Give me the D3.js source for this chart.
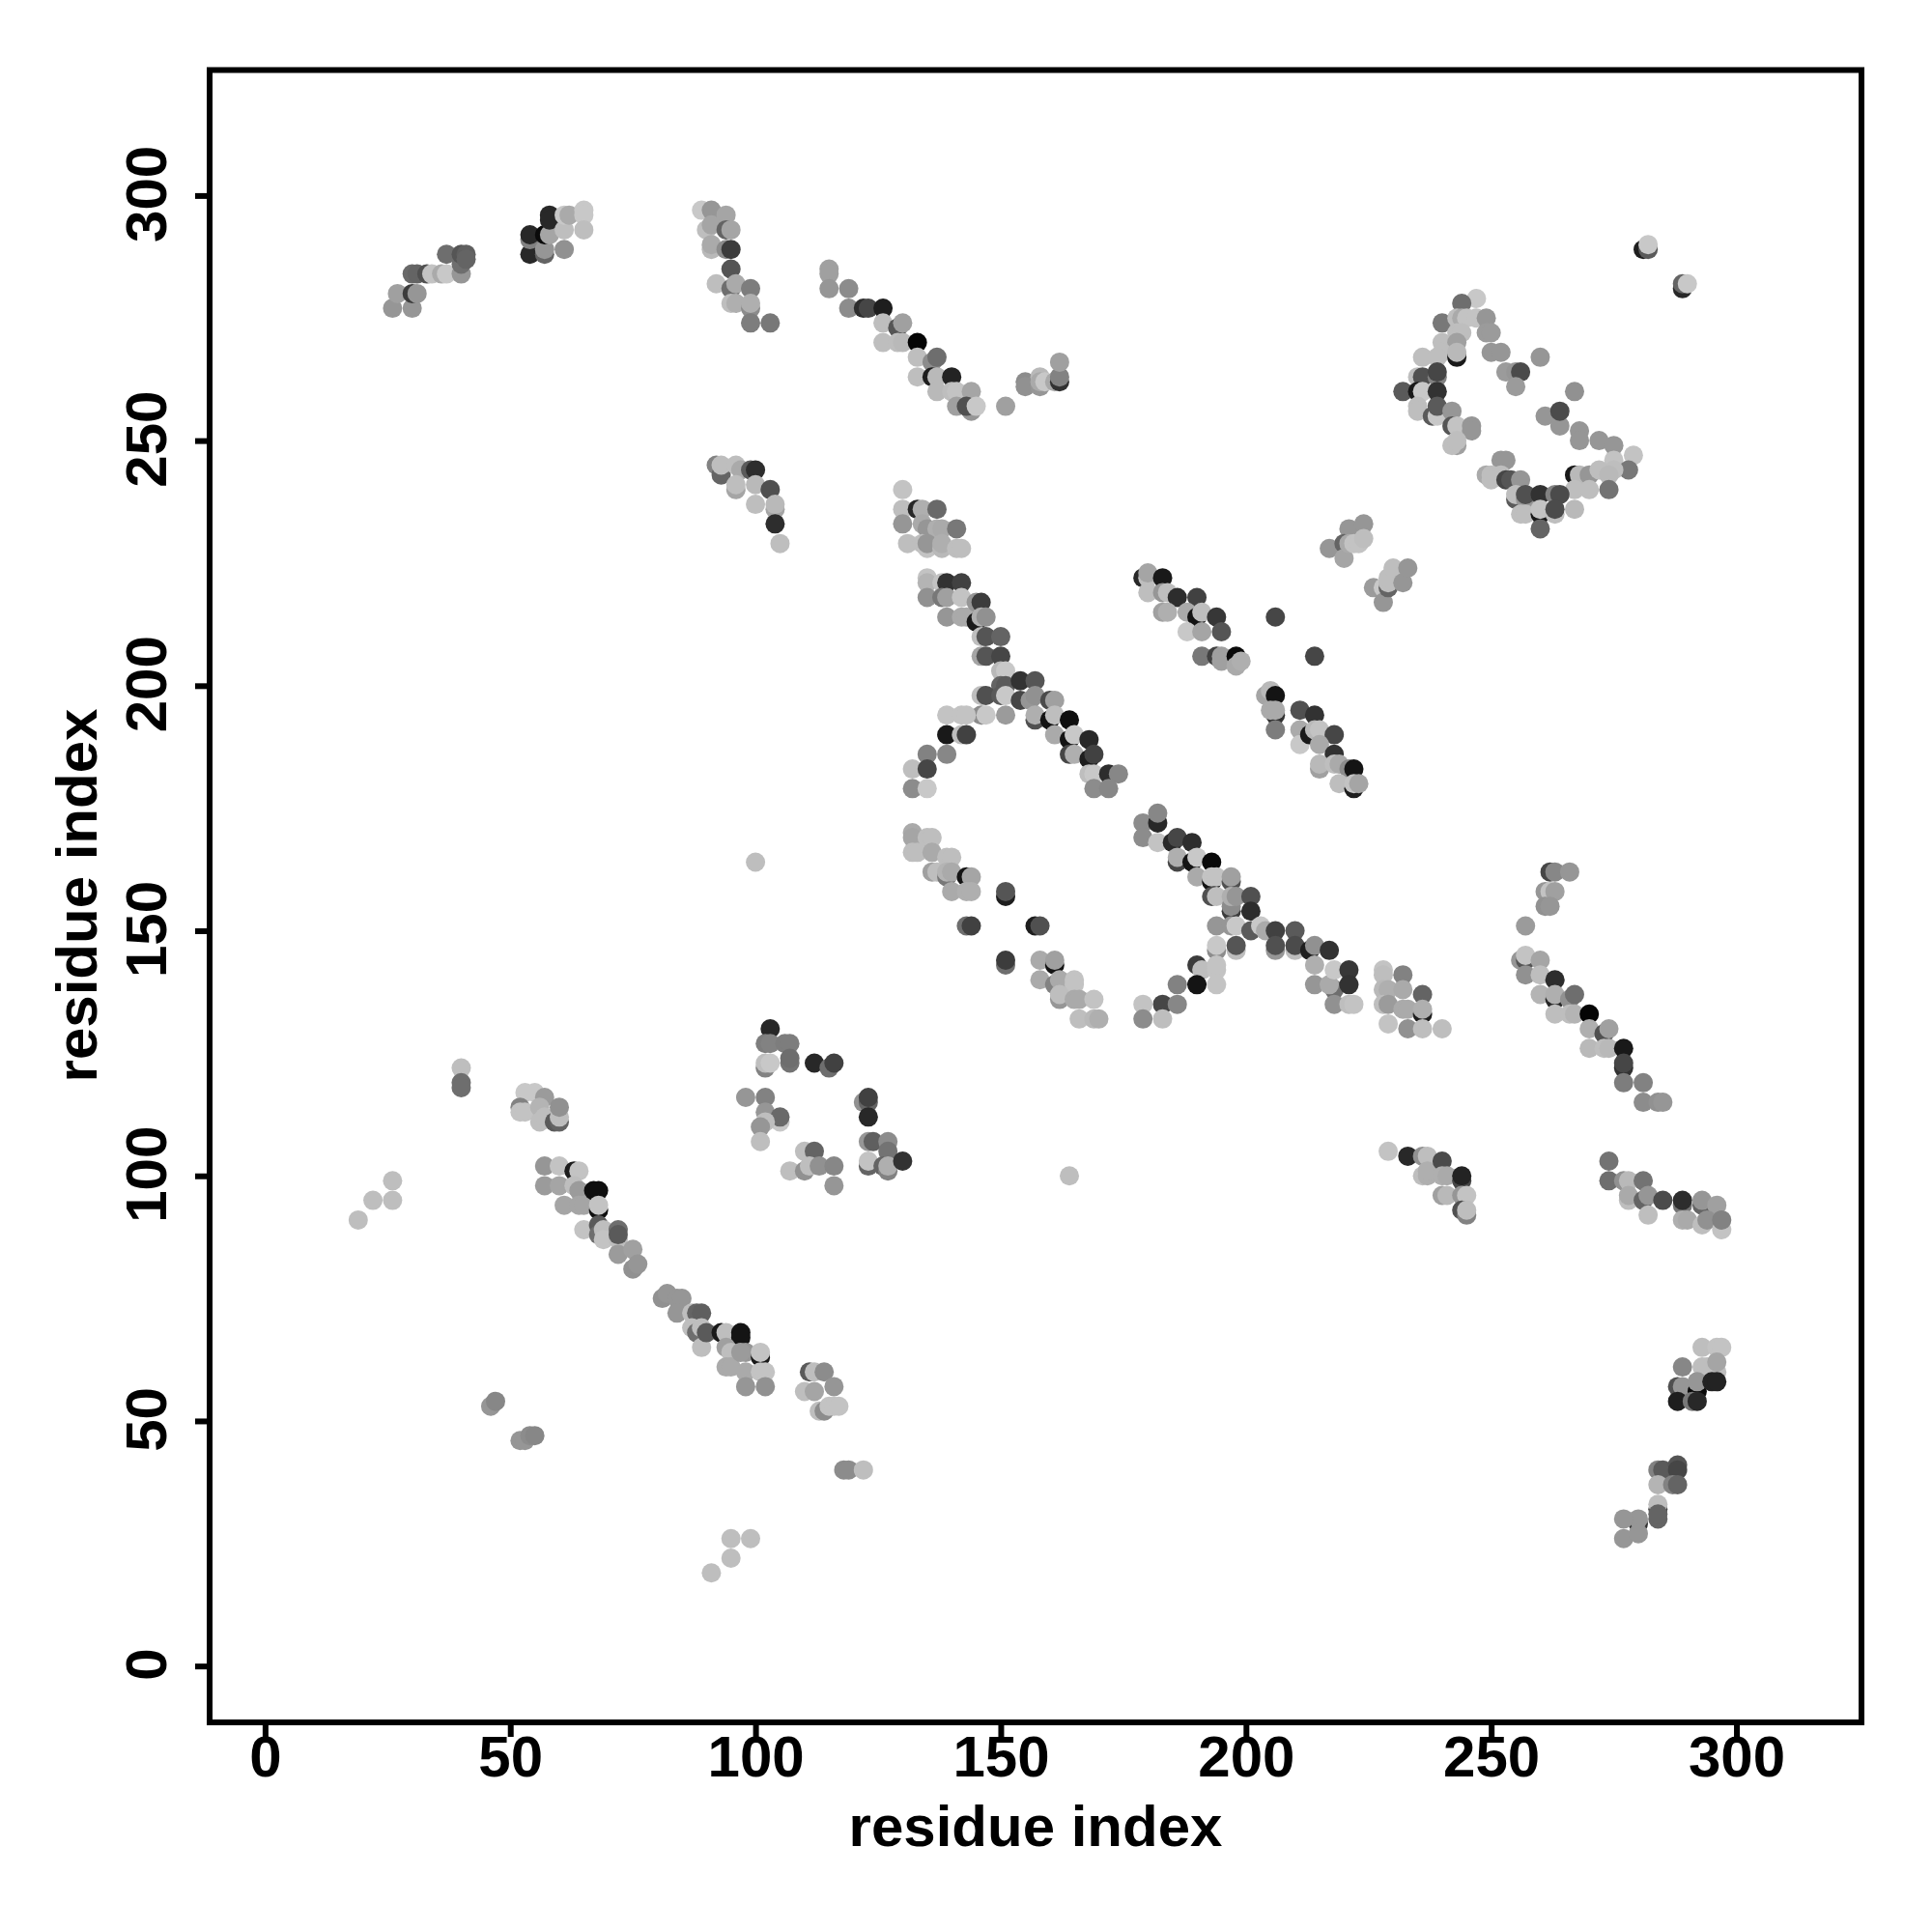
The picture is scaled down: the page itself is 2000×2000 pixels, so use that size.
<!DOCTYPE html>
<html><head><meta charset="utf-8"><script src="https://cdn.jsdelivr.net/npm/d3@7"></script>
<style>html,body{margin:0;background:#fff}svg{display:block}text{font-family:"Liberation Sans",Arial,sans-serif;font-weight:700;fill:#000}</style></head><body>
<script>
// each contact: [residue x, residue y, grey level]
const topLeft=[[26,277,150],[30,277,150],[27,280,160],[30,280,60],[31,280,150],[30,284,105],[31,284,100],[33,284,80],[34,284,195],[36,284,170],[37,284,200],[40,284,150],[37,288,110],[40,286,110],[40,288,85],[41,288,95],[41,287,100],
[54,288,40],[54,291,130],[54,292,40],[57,288,100],[57,289,150],[57,292,10],[58,292,165],[58,296,40],[58,295,40],[61,289,145],[61,293,190],[61,296,200],[62,296,170],[65,297,200],[65,296,200],[65,293,190],
[89,297,200],[91,297,150],[94,296,165],[90,293,190],[91,294,165],[94,293,100],[95,293,165],[91,289,185],[91,290,170],[94,289,140],[95,289,60],[95,285,85],[92,282,190],[95,281,110],[96,282,170],[99,281,125],[95,278,190],[96,278,175],[99,277,140],[99,278,175],[99,274,125],[103,274,120],
[92,245,130],[93,243,100],[93,245,190],[96,245,190],[97,244,170],[99,244,90],[100,244,45],[96,240,165],[96,241,190],[100,241,185],[103,240,80],[100,237,190],[104,236,165],[104,237,185],[104,233,45],[105,229,190]];
const topMiddle=[[115,285,160],[115,284,160],[115,281,150],[119,281,140],[119,277,140],[122,277,45],[123,277,70],[126,277,30],[126,274,190],[126,270,190],[129,273,85],[130,274,160],[129,270,190],[130,270,185],[133,270,5],[133,267,190],[136,266,140],[137,267,110],[133,263,190],[136,263,30],[137,263,185],[140,263,35],[137,260,185],[140,260,190],[141,260,195],[141,257,160],[144,260,165],[144,256,150],[143,257,80],[145,257,200],[151,257,160],[155,262,140],[155,261,145],[158,263,185],[158,261,150],[158,262,170],[159,262,200],[161,262,170],[162,262,50],[162,263,130],[162,266,160]];
const topRight=[[281,289,30],[282,289,90],[282,290,200],[289,281,40],[289,282,100],[290,282,200],
[247,279,200],[244,278,110],[240,274,120],[243,275,190],[244,275,170],[245,275,195],[247,275,195],[249,275,150],[243,272,190],[244,272,190],[249,272,155],[250,272,155],[240,270,190],[243,270,160],[240,268,190],[236,267,190],[239,267,190],[243,267,25],[243,268,185],[250,268,150],[252,268,150],[260,267,150],[253,264,155],[255,264,150],[256,264,75],[255,261,155],[235,263,190],[236,263,80],[239,263,130],[239,264,70],[232,260,90],[235,260,25],[236,260,200],[239,260,50],[267,260,145],[235,257,190],[235,256,190],[238,255,90],[239,255,200],[239,257,90],[242,256,150],[261,255,150],[264,253,150],[264,256,75],[242,253,85],[243,253,195],[246,253,150],[246,252,150],[243,249,160],[242,249,190],[243,250,190],[268,252,150],[268,250,150],[272,250,150],[275,249,150],[279,247,195],[275,246,195],[252,246,150],[253,246,150],[278,244,120],[275,244,190],[249,243,170],[250,243,190],[252,243,190],[250,242,190],[253,242,70],[254,242,85],[256,242,150],[267,243,25],[268,243,185],[270,243,150],[272,244,190],[274,243,185],[267,240,190],[270,240,190],[274,240,115],[255,238,90],[255,239,190],[257,238,150],[257,239,80],[260,239,50],[263,239,130],[264,239,75],[267,236,185],[256,235,190],[257,235,190],[260,235,25],[260,236,195],[263,235,190],[263,236,75],[260,232,100]];
const centreDiagonal=[[130,240,195],[130,236,190],[133,236,40],[134,236,175],[137,236,105],[130,233,150],[134,233,170],[135,232,150],[137,232,175],[138,232,170],[141,232,120],[131,229,190],[134,229,190],[135,228,195],[135,229,150],[138,228,185],[138,229,175],[141,228,190],[142,228,190],
[135,222,195],[135,221,180],[138,221,195],[139,221,50],[142,221,65],[135,218,145],[138,218,120],[139,218,160],[142,218,195],[139,214,150],[142,214,170],[143,214,170],[145,217,150],[146,217,60],[145,213,25],[146,214,175],[147,214,145],[146,210,190],[147,210,85],[150,210,100],[146,206,165],[147,206,85],[150,206,70],[150,203,185],[151,203,200],[150,200,100],[151,200,90],[154,201,50],[157,201,85],[146,198,190],[147,198,80],[150,198,90],[151,198,200],[154,197,70],[156,197,150],[157,198,145],[160,197,75],[161,197,160],[146,194,140],[147,194,200],[139,194,195],[142,194,195],[143,194,195],[151,194,155],[157,193,80],[157,194,175],[160,193,20],[161,194,190],[164,193,15],[161,190,170],[139,190,25],[142,190,190],[143,190,65],[164,189,20],[165,190,200],[168,189,40],[135,186,130],[139,186,135],[164,186,70],[165,186,175],[168,185,30],[169,186,65],[132,183,190],[135,183,70],[168,182,190],[169,182,200],[172,182,45],[174,182,135],[132,179,140],[135,179,200],[169,179,140],[172,179,135]];
const rightOfCentre=[[179,222,40],[180,222,190],[180,223,165],[180,219,190],[183,222,25],[183,219,150],[184,219,190],[186,218,45],[190,218,65],[183,215,160],[184,215,175],[188,215,170],[190,214,20],[191,215,190],[194,214,55],[188,211,200],[191,211,165],[195,211,85],[206,214,70],[214,206,70],[191,206,120],[194,206,65],[195,206,160],[195,205,160],[198,206,10],[198,204,170],[199,205,175],[204,198,165],[205,199,185],[206,198,20],[206,194,50],[205,195,170],[206,195,170],[206,191,125],[211,195,80],[214,194,50],[211,191,170],[211,188,200],[213,190,25],[214,191,185],[215,191,195],[218,190,70],[215,188,170],[218,186,50],[215,183,160],[215,184,185],[218,184,190],[219,184,170],[221,183,140],[222,183,20],[219,180,190],[222,179,30],[222,180,195],[223,180,165],
[221,232,150],[224,233,150],[217,228,150],[220,229,100],[220,226,165],[221,229,170],[222,229,195],[223,229,195],[224,230,190],[226,220,155],[228,220,200],[228,217,150],[229,220,100],[229,221,190],[229,222,190],[230,224,190],[232,221,150],[233,224,150]];
const lowerCentre=[[132,170,170],[132,169,165],[132,166,190],[133,166,190],[135,169,190],[136,169,190],[136,166,170],[136,162,160],[137,162,190],[139,165,190],[140,165,190],[139,161,120],[139,162,180],[140,162,170],[140,158,170],[143,161,20],[144,161,165],[143,158,175],[144,158,175],[151,157,30],[151,158,85],[143,151,110],[144,151,65],[157,151,30],[158,151,80],[151,143,110],[151,144,60],[158,144,170],[158,140,170],[161,143,20],[161,144,160],[161,139,130],[162,140,170],[165,140,195],[165,139,195],[162,136,150],[162,137,190],[165,136,170],[166,136,170],[169,136,195],[166,132,190],[169,132,185],[170,132,175],
[179,172,140],[179,169,140],[182,172,40],[182,174,135],[182,168,195],[185,168,40],[186,169,70],[186,164,70],[186,165,175],[189,168,45],[189,164,20],[190,165,200],[190,161,170],[193,164,10],[193,160,20],[193,161,195],[194,161,195],[197,160,80],[197,161,160],[193,157,80],[194,157,190],[197,154,60],[197,155,140],[197,157,175],[198,157,150],[201,157,80],[201,154,45],[194,151,150],[197,151,150],[198,151,200],[201,150,90],[203,151,200],[204,150,170],[206,150,65],[206,146,150],[206,147,80],[210,150,90],[210,146,190],[210,147,75],[194,146,140],[194,147,200],[198,146,190],[198,147,85],[190,143,60],[191,142,190],[190,139,20],[194,142,195],[194,143,195],[194,139,195],[186,139,130],[179,135,195],[183,135,70],[186,135,135],[179,132,140],[183,132,190],
[213,146,30],[214,147,145],[217,146,50],[214,143,175],[214,139,150],[218,138,110],[217,139,170],[218,142,200],[221,142,55],[221,139,50],[218,135,145],[221,135,190],[222,135,195],
[228,142,195],[228,141,190],[232,141,130],[228,138,185],[229,138,175],[232,138,170],[228,135,190],[229,135,155],[232,134,170],[233,134,170],[229,131,195],[233,130,145],[236,137,100],[236,133,30],[236,134,175],[236,130,190],[240,130,190]];
const rightEdge=[[262,162,70],[263,162,135],[266,162,150],[261,158,150],[262,158,195],[263,158,160],[261,155,145],[262,155,150],[257,151,155],[256,144,150],[257,144,85],[257,145,195],[260,144,165],[257,141,145],[260,141,190],[260,137,180],[263,140,45],[263,136,40],[263,137,175],[266,136,145],[267,137,110],[263,133,190],[266,133,190],[267,133,180],[270,133,5],[270,130,175],[273,129,80],[274,130,160],[270,126,185],[273,126,190],[274,126,185],[277,126,25],[277,122,50],[277,123,70],[277,119,125],[281,119,130],[281,115,140],[284,115,145],[285,115,150],
[229,105,195],[233,104,40],[236,104,145],[237,104,190],[236,100,190],[237,100,175],[237,101,175],[240,103,75],[240,100,175],[241,100,170],[244,99,70],[244,100,35],[240,96,160],[241,96,185],[244,96,150],[245,96,195],[244,93,80],[245,92,130],[245,93,190],
[274,103,115],[274,99,110],[277,99,145],[278,99,185],[281,99,115],[278,95,190],[278,96,170],[281,95,100],[282,96,150],[282,92,190],[285,95,75],[289,94,115],[289,95,45],[289,91,175],[290,91,170],[293,94,100],[293,95,150],[296,94,160],[293,90,190],[294,91,145],[297,89,195],[297,91,130]];
const lowerLeft=[[53,117,200],[55,117,200],[52,114,130],[52,113,195],[53,113,195],[57,116,155],[56,114,180],[56,111,190],[57,112,190],[59,111,90],[60,111,100],[60,112,190],[60,114,145],
[57,102,150],[60,102,195],[63,101,30],[64,101,195],[57,98,155],[60,98,165],[63,98,190],[64,97,155],[61,94,165],[64,94,165],[65,94,165],[67,97,15],[68,97,15],[68,93,15],[68,94,195],[65,89,195],[68,90,90],[68,88,110],[69,89,190],[69,87,195],[72,87,190],[72,89,110],[72,88,90],[72,84,155],[75,85,160],[75,81,145],[76,82,150],
[81,75,145],[82,76,150],[84,75,150],[85,75,150],[84,72,150],[87,72,190],[88,72,100],[89,72,95],[87,69,190],[88,68,110],[89,69,190],[89,65,190],[90,68,90],[93,68,25],[94,68,190],[97,68,20],[97,67,20],[94,65,160],[95,64,190],[94,61,170],[95,61,170],[98,64,150],[98,60,170],[97,64,155],[101,63,25],[101,64,195],[98,57,150],[101,60,195],[102,60,195],[102,57,145],
[111,60,90],[112,60,190],[114,60,140],[110,56,190],[112,56,165],[116,57,150],[113,52,190],[114,52,140],[115,53,195],[116,53,195],[117,53,195],
[98,116,150],[102,116,130],[102,113,150],[105,111,200],[105,112,105],[102,111,190],[101,110,150],[101,107,190],[122,115,145],[123,115,100],[123,116,65],[123,112,40],[110,105,190],[112,105,100],[107,101,190],[110,101,145],[111,102,190],[113,102,145],[116,102,135],[116,98,150],[123,107,150],[124,107,95],[127,107,140],[127,105,115],[123,102,100],[123,103,195],[126,102,100],[127,101,130],[127,102,175],[130,103,50],
[103,130,40],[102,127,125],[103,127,130],[102,122,130],[102,123,190],[103,123,200],[106,127,125],[107,127,125],[107,123,115],[107,124,110],[112,123,40],[115,122,110],[116,123,65]];
const isolated=[[100,164,190],[164,100,190],[40,122,190],[40,119,110],[40,118,110],[19,91,190],[22,95,190],[26,95,190],[26,99,190],[46,53,150],[47,54,135],[52,46,150],[53,46,150],[54,47,140],[55,47,135],[91,19,190],[95,22,190],[95,26,190],[99,26,190],[118,40,140],[119,40,140],[122,40,190]];
const bottomRight=[[293,65,190],[296,65,195],[297,65,195],[289,61,135],[293,61,190],[294,61,190],[296,60,190],[296,62,165],[288,57,80],[289,57,150],[292,56,10],[292,58,150],[295,58,35],[296,58,35],[288,54,30],[291,54,120],[292,54,40],
[284,40,130],[285,40,90],[288,41,85],[288,40,70],[284,37,180],[287,37,130],[288,37,100],[284,32,70],[284,33,190],[284,30,100],[284,31,100],[280,29,50],[280,30,150],[277,30,150],[277,26,150],[280,27,150]];
const xTicks=[0,50,100,150,200,250,300];
const yTicks=[0,50,100,150,200,250,300];
const axisTitle="residue index";

const contacts=[...topLeft,...topMiddle,...topRight,...centreDiagonal,...rightOfCentre,...lowerCentre,...rightEdge,...lowerLeft,...isolated,...bottomRight];
const svg=d3.select("body").append("svg").attr("width",2000).attr("height",2000);
const x=d3.scaleLinear().domain([-11.3,325.5]).range([217,1927]);
const y=d3.scaleLinear().domain([-11.5,325.6]).range([1783,72.5]);
svg.append("g").selectAll("circle").data(contacts).join("circle")
 .attr("cx",d=>x(d[0])).attr("cy",d=>y(d[1])).attr("r",10).attr("fill",d=>d3.rgb(d[2],d[2],d[2]));
svg.append("rect").attr("x",217).attr("y",72.5).attr("width",1710).attr("height",1710.5).attr("fill","none").attr("stroke","#000").attr("stroke-width",6);
const ax=svg.append("g").attr("transform","translate(0,1783)").call(d3.axisBottom(x).tickValues(xTicks).tickSize(15).tickPadding(-2).tickFormat(d3.format("d")));
const ay=svg.append("g").attr("transform","translate(217,0)").call(d3.axisLeft(y).tickValues(yTicks).tickSize(15).tickFormat(d3.format("d")));
[ax,ay].forEach(g=>{g.select(".domain").remove();g.selectAll("line").attr("stroke","#000").attr("stroke-width",6);g.selectAll("text").attr("font-size",60).attr("fill","#000").style("font-family",'"Liberation Sans",Arial,sans-serif').style("font-weight",700);});
ay.selectAll("text").attr("text-anchor","middle").attr("dy",0).attr("x",0).attr("y",0)
 .attr("transform",d=>`translate(-45,-2) rotate(-90)`);
svg.append("text").attr("x",1072).attr("y",1911).attr("text-anchor","middle").attr("font-size",60).text(axisTitle);
svg.append("text").attr("transform","translate(100,927) rotate(-90)").attr("text-anchor","middle").attr("font-size",60).text(axisTitle);
</script></body></html>
